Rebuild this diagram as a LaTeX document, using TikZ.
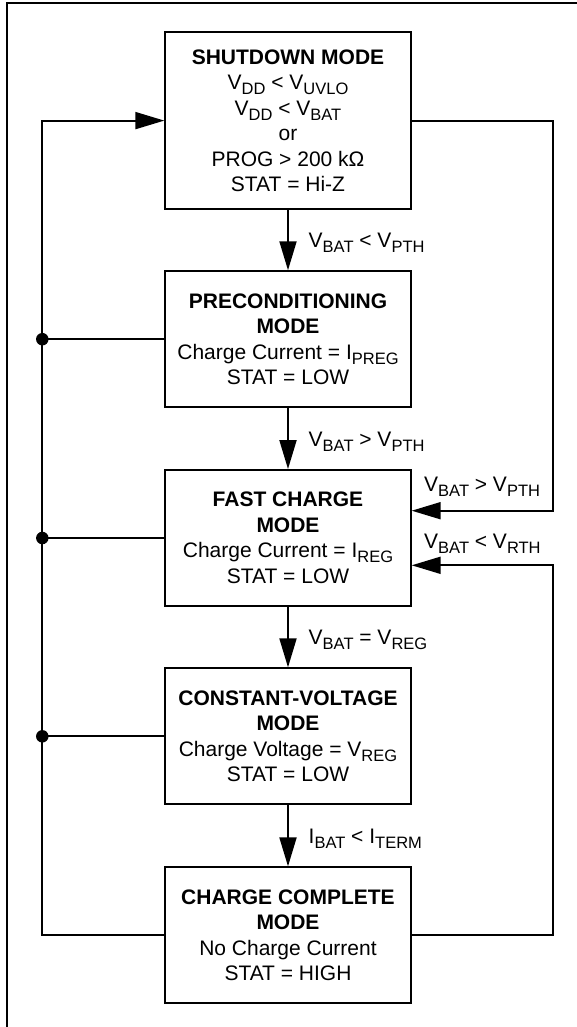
\documentclass[tikz,border=0pt]{standalone}
\usepackage{fontspec}
\setmainfont{Liberation Sans}
\usetikzlibrary{arrows.meta}
\newcommand{\sbs}[1]{\raisebox{-5pt}{\fontsize{16.5}{16.5}\selectfont #1}}
\begin{document}
\begin{tikzpicture}[x=1pt,y=-1pt,
  ln/.style={line width=1.9pt},
  box/.style={draw, line width=1.9pt, minimum width=245.5pt, minimum height=136pt, align=center, inner sep=0pt, font=\fontsize{21}{25.5}\selectfont},
  arr/.style={ln, -{Triangle[length=29pt,width=17pt]}},
  lbl/.style={anchor=base west, inner sep=0pt, font=\fontsize{21}{25.5}\selectfont},
  dot/.style={circle, fill, inner sep=0pt, minimum size=12.5pt}]
\useasboundingbox (0,0) rectangle (576,1027);
\fill[white] (0,0) rectangle (576,1027);
\draw[ln] (6.7,1032) -- (6.7,3.3) -- (581,3.3);

\node[box, minimum height=176.7pt] (sd) at (288,120.6) {\textbf{SHUTDOWN MODE}\\V\sbs{DD} < V\sbs{UVLO}\\V\sbs{DD} < V\sbs{BAT}\\or\\PROG > 200 kΩ\\STAT = Hi-Z};
\node[box] (pre) at (288,339.2) {\textbf{PRECONDITIONING}\\\textbf{MODE}\\Charge Current = I\sbs{PREG}\\STAT = LOW};
\node[box] (fast) at (288,538) {\textbf{FAST CHARGE}\\\textbf{MODE}\\Charge Current = I\sbs{REG}\\STAT = LOW};
\node[box] (cv) at (288,736.3) {\textbf{CONSTANT-VOLTAGE}\\\textbf{MODE}\\Charge Voltage = V\sbs{REG}\\STAT = LOW};
\node[box] (cc) at (288,935.3) {\textbf{CHARGE COMPLETE}\\\textbf{MODE}\\No Charge Current\\STAT = HIGH};

\coordinate (xl) at (42.3,0);
\coordinate (xr) at (553,0);
\coordinate (fu) at ([yshift=27.3pt]fast.east);
\coordinate (fd) at ([yshift=-27.3pt]fast.east);

\draw[arr] (sd.south) -- (pre.north);
\draw[arr] (pre.south) -- (fast.north);
\draw[arr] (fast.south) -- (cv.north);
\draw[arr] (cv.south) -- (cc.north);

\draw[arr] (cc.west) -- (cc.west -| xl) -- (sd.west -| xl) -- (sd.west);
\foreach \n in {pre,fast,cv} {
  \draw[ln] (\n.west) -- (\n.west -| xl);
  \node[dot] (d\n) at (\n.west -| xl) {};
}
\draw[arr] (sd.east) -- (sd.east -| xr) -- (fu -| xr) -- (fu);
\draw[arr] (cc.east) -- (cc.east -| xr) -- (fd -| xr) -- (fd);

\node[lbl] (l1) at (308.5,247) {V\sbs{BAT} < V\sbs{PTH}};
\node[lbl] (l2) at (308.5,446.7) {V\sbs{BAT} > V\sbs{PTH}};
\node[lbl] (l3) at (308.5,644.5) {V\sbs{BAT} = V\sbs{REG}};
\node[lbl] (l4) at (308.5,843) {I\sbs{BAT} < I\sbs{TERM}};
\node[lbl] (l5) at (424,491.7) {V\sbs{BAT} > V\sbs{PTH}};
\node[lbl] (l6) at (424,548.3) {V\sbs{BAT} < V\sbs{RTH}};
\end{tikzpicture}
\end{document}
